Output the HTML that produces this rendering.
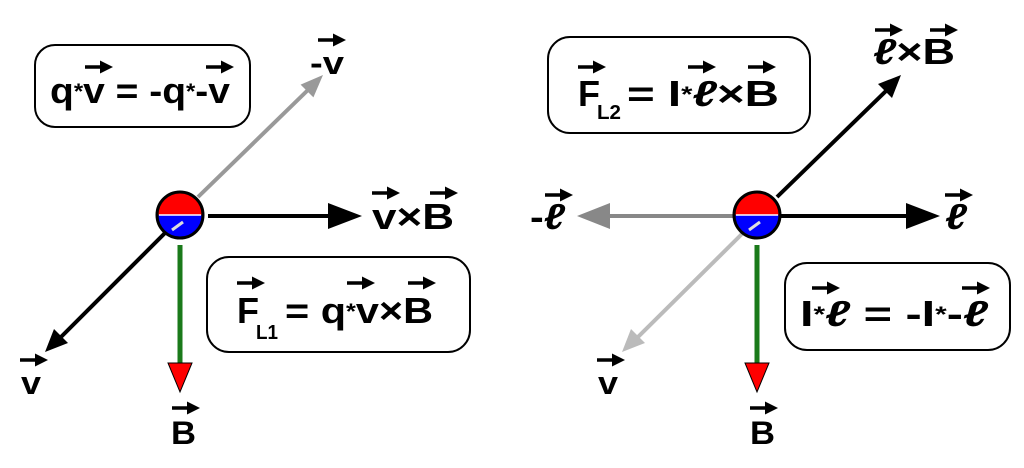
<!DOCTYPE html>
<html><head><meta charset="utf-8"><style>
html,body{margin:0;padding:0;background:#fff;width:1024px;height:468px;overflow:hidden}
text{font-family:"Liberation Sans",Arial,sans-serif;font-weight:bold;fill:#000}
</style></head><body>
<svg width="1024" height="468" viewBox="0 0 1024 468" xmlns="http://www.w3.org/2000/svg">
<defs>
<g id="oa"><line x1="0" y1="0" x2="18" y2="0" stroke="#000" stroke-width="3.5"/><polygon points="15,-6.5 28,0 15,6.5" fill="#000"/></g>
</defs>
<!-- LEFT -->
<rect x="35" y="45" width="215" height="82" rx="20" fill="#fff" stroke="#000" stroke-width="2"/>
<text x="50" y="103" font-size="36" textLength="180" lengthAdjust="spacingAndGlyphs">q<tspan font-size="22" dy="-4">*</tspan><tspan dy="4">v = -q</tspan><tspan font-size="22" dy="-4">*</tspan><tspan dy="4">-v</tspan></text>
<use href="#oa" x="85" y="67"/><use href="#oa" x="206" y="67"/>

<text x="310" y="74" font-size="32" textLength="34" lengthAdjust="spacingAndGlyphs">-v</text><use href="#oa" x="318" y="40"/>
<text x="372" y="229" font-size="36" textLength="82" lengthAdjust="spacingAndGlyphs">v×B</text>
<use href="#oa" x="372" y="193"/><use href="#oa" x="430" y="193"/>

<rect x="207" y="257" width="263" height="95" rx="22" fill="#fff" stroke="#000" stroke-width="2"/>
<text x="237" y="323" font-size="36" textLength="22" lengthAdjust="spacingAndGlyphs">F</text>
<text x="256" y="339" font-size="20" textLength="22" lengthAdjust="spacingAndGlyphs">L1</text>
<text x="285" y="323" font-size="36" textLength="148" lengthAdjust="spacingAndGlyphs">= q<tspan font-size="22" dy="-4">*</tspan><tspan dy="4">v×B</tspan></text>
<use href="#oa" x="237" y="283"/><use href="#oa" x="347" y="283"/><use href="#oa" x="408" y="283"/>

<text x="21" y="394" font-size="32" textLength="20" lengthAdjust="spacingAndGlyphs">v</text><use href="#oa" x="20" y="360"/>
<text x="171" y="444" font-size="32" textLength="25" lengthAdjust="spacingAndGlyphs">B</text><use href="#oa" x="172" y="408"/>

<line x1="198" y1="197" x2="310" y2="88" stroke="#999" stroke-width="4"/>
<polygon points="323,75 300.6,84.6 313.4,97.4" fill="#999"/>
<line x1="208" y1="216" x2="335" y2="216" stroke="#000" stroke-width="4"/>
<polygon points="328,203 362,216 328,229" fill="#000"/>
<line x1="172" y1="226" x2="58" y2="340" stroke="#000" stroke-width="4"/>
<polygon points="45,352 68,343 54,329" fill="#000"/>
<line x1="180" y1="245" x2="180" y2="365" stroke="#1a7a1a" stroke-width="5"/>
<polygon points="168,363 192,363 180,392" fill="#f00" stroke="#000" stroke-width="1"/>
<path d="M157,215 A23,23 0 0 1 203,215 Z" fill="#f00"/>
<path d="M157,215 A23,23 0 0 0 203,215 Z" fill="#00f"/>
<line x1="159" y1="215" x2="201" y2="215" stroke="#fff" stroke-width="1.5"/>
<circle cx="180" cy="215" r="23" fill="none" stroke="#000" stroke-width="3"/>
<line x1="183" y1="222" x2="172" y2="230" stroke="#ddd" stroke-width="3"/>

<!-- RIGHT -->
<rect x="548" y="37" width="262" height="96" rx="22" fill="#fff" stroke="#000" stroke-width="2"/>
<text x="578" y="106" font-size="36" textLength="22" lengthAdjust="spacingAndGlyphs">F</text>
<text x="597" y="119" font-size="20" textLength="24" lengthAdjust="spacingAndGlyphs">L2</text>
<text x="627" y="106" font-size="36" textLength="152" lengthAdjust="spacingAndGlyphs">= I<tspan font-size="22" dy="-4">*</tspan><tspan dy="4" font-style="italic">ℓ</tspan>×B</text>
<use href="#oa" x="578" y="67"/><use href="#oa" x="688" y="67"/><use href="#oa" x="748" y="67"/>

<text x="873" y="64" font-size="36" textLength="82" lengthAdjust="spacingAndGlyphs"><tspan font-style="italic">ℓ</tspan>×B</text>
<use href="#oa" x="875" y="30"/><use href="#oa" x="930" y="30"/>
<text x="530" y="229" font-size="36" textLength="35" lengthAdjust="spacingAndGlyphs">-<tspan font-style="italic">ℓ</tspan></text>
<use href="#oa" x="545" y="195"/>
<text x="945" y="229" font-size="36" font-style="italic" textLength="22" lengthAdjust="spacingAndGlyphs">ℓ</text>
<use href="#oa" x="945" y="195"/>

<rect x="785" y="263" width="225" height="87" rx="22" fill="#fff" stroke="#000" stroke-width="2"/>
<text x="800" y="326" font-size="36" textLength="188" lengthAdjust="spacingAndGlyphs">I<tspan font-size="22" dy="-4">*</tspan><tspan dy="4" font-style="italic">ℓ</tspan> = -I<tspan font-size="22" dy="-4">*</tspan><tspan dy="4">-</tspan><tspan font-style="italic">ℓ</tspan></text>
<use href="#oa" x="812" y="288"/><use href="#oa" x="962" y="288"/>

<text x="598" y="394" font-size="32" textLength="20" lengthAdjust="spacingAndGlyphs">v</text><use href="#oa" x="597" y="360"/>
<text x="750" y="444" font-size="32" textLength="25" lengthAdjust="spacingAndGlyphs">B</text><use href="#oa" x="750" y="408"/>

<line x1="777" y1="197" x2="889" y2="88" stroke="#000" stroke-width="4"/>
<polygon points="901,75 878,84 892,98" fill="#000"/>
<line x1="735" y1="216" x2="605" y2="216" stroke="#888" stroke-width="4"/>
<polygon points="577,216 610,203 610,229" fill="#888"/>
<line x1="780" y1="216" x2="912" y2="216" stroke="#000" stroke-width="4"/>
<polygon points="906,203 940,216 906,229" fill="#000"/>
<line x1="752" y1="224" x2="635" y2="340" stroke="#bbb" stroke-width="4"/>
<polygon points="622,352 645,343 631,329" fill="#bbb"/>
<line x1="757" y1="245" x2="757" y2="365" stroke="#1a7a1a" stroke-width="5"/>
<polygon points="745,363 769,363 757,392" fill="#f00" stroke="#000" stroke-width="1"/>
<path d="M734,215 A23,23 0 0 1 780,215 Z" fill="#f00"/>
<path d="M734,215 A23,23 0 0 0 780,215 Z" fill="#00f"/>
<line x1="736" y1="215" x2="778" y2="215" stroke="#fff" stroke-width="1.5"/>
<circle cx="757" cy="215" r="23" fill="none" stroke="#000" stroke-width="3"/>
<line x1="760" y1="222" x2="749" y2="230" stroke="#ddd" stroke-width="3"/>
</svg>
</body></html>
